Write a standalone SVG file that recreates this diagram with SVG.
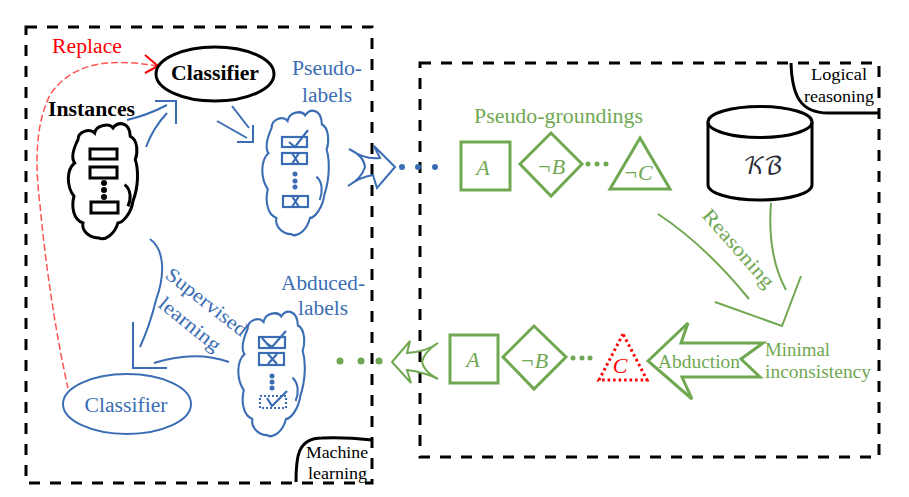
<svg xmlns="http://www.w3.org/2000/svg" width="909" height="497" viewBox="0 0 909 497">
<style>
text{font-family:"Liberation Serif","Times New Roman",serif;font-size:20px}
.m{text-anchor:middle}
.b{fill:#3b6db4}.g{fill:#70a852}.k{fill:#000}.r{fill:#f00}
.sb{stroke:#3b6db4;fill:none;stroke-width:2}
.sg{stroke:#70a852;fill:none;stroke-width:2}
.sg3{stroke:#70a852;fill:none;stroke-width:3}
.sk{stroke:#000;fill:none;stroke-width:3}
.box{stroke:#000;fill:none;stroke-width:3;stroke-dasharray:11 10}
.i{font-style:italic;font-size:22px}
.cb{stroke:#3b6db4;fill:#fff;stroke-width:6.500}
.ck{stroke:#000;fill:#fff;stroke-width:9}
.rb{stroke:#3b6db4;fill:none;stroke-width:2.200}
.t16{font-size:16px}
.t18{font-size:18px}
</style>
<defs>
<g id="cl"><path d="M30 50C30 25 65 15 80 30C85 5 125 0 135 15C150-5 185-5 187 40C210 50 210 90 202 110C212 140 212 190 195 235C190 270 165 300 150 300C140 335 110 355 92 345C60 345 40 320 45 300C15 290 10 250 18 220C-5 190-5 140 20 120C5 100 25 60 30 50Z"/><path d="M170 185C190 200 190 230 180 250"/></g>
</defs>
<g id="frames">
<rect class="box" x="26" y="27" width="346" height="456"/>
<rect class="box" x="420" y="63" width="459" height="394"/>
</g>
<g id="connectors">
<path d="M158 66C110 58 72 62 50 95C35 125 35 165 40 205C46 270 57 340 68 388" fill="none" stroke="#f55" stroke-width="1.500" stroke-dasharray="7 3"/>
<path d="M145 55L158 66L145 73" fill="none" stroke="#f00" stroke-width="2"/>
<path class="sb" d="M127 120Q148 115 167 105M146 147Q153 128 167 113M155 101H176V124"/>
<path class="sb" d="M232 106L249 128M217 121L247 138M253 125V142H237"/>
<path class="sb" d="M150 239C165 250 165 275 156 300Q150 325 140 347M229 362Q195 350 154 363M133 322V368H167"/>
<path class="sg" d="M658 214Q705 245 749 299M771 203Q767 255 786 290M715 302L782 326L801 276"/>
<path class="sb" d="M395 167L374 146L380 158Q365 160 349 149Q364 156 365 167Q362 178 348 186Q360 177 373 175L377 188Z"/>
<path class="sg" d="M392 362L410 341L407 353Q426 352 438 343Q424 352 422 362Q424 372 438 379Q424 372 407 370L411 383Z"/>
<path class="sg3" d="M648 361L688 323L681 343H763L741 359L760 377H682L692 399Z"/>
</g>
<g id="dots-blue" class="b"><circle cx="402" cy="167" r="3"/><circle cx="418" cy="167" r="3"/><circle cx="435" cy="167" r="3"/></g>
<g id="dots-green" class="g"><circle cx="340" cy="361" r="3.500"/><circle cx="361" cy="361" r="3.500"/><circle cx="379" cy="361" r="3.500"/></g>
<g id="classifier-top">
<ellipse cx="215" cy="74" rx="59" ry="27" fill="#fff" stroke="#000" stroke-width="3"/>
<text class="m k" x="215" y="80" font-weight="bold" textLength="88" lengthAdjust="spacingAndGlyphs">Classifier</text>
</g>
<g id="classifier-bottom">
<ellipse cx="127" cy="404" rx="64" ry="30" class="sb"/>
<text class="m b" x="126" y="412" textLength="83" lengthAdjust="spacingAndGlyphs">Classifier</text>
</g>
<g id="instances">
<text class="k" x="48" y="116" font-weight="bold" textLength="87" lengthAdjust="spacingAndGlyphs">Instances</text>
<use href="#cl" transform="translate(68 123) scale(.333)" class="ck"/>
<g class="sk"><rect x="90" y="149" width="27" height="10"/><rect x="90" y="167" width="27" height="11"/><rect x="91" y="202" width="27" height="11"/></g>
<circle cx="104" cy="183" r="3"/><circle cx="104" cy="190" r="3"/><circle cx="104" cy="197" r="3"/>
</g>
<g id="pseudo-labels">
<text class="m b" x="327" y="75" textLength="70" lengthAdjust="spacingAndGlyphs">Pseudo-</text>
<text class="m b" x="327" y="102" textLength="50" lengthAdjust="spacingAndGlyphs">labels</text>
<use href="#cl" transform="translate(262 110) scale(.32 .36)" class="cb"/>
<g class="rb"><rect x="282" y="137" width="25" height="10"/><rect x="282" y="153" width="25" height="11"/><rect x="283" y="196" width="25" height="11"/><path d="M289 142L295 147L308 130M292 153L299 164M299 153L292 164M292 196L299 207M299 196L292 207"/></g>
<g class="b"><circle cx="295" cy="174" r="2.500"/><circle cx="295" cy="181" r="2.500"/><circle cx="295" cy="187" r="2.500"/></g>
</g>
<g id="abduced-labels">
<text class="m b" x="323" y="290" textLength="84" lengthAdjust="spacingAndGlyphs">Abduced-</text>
<text class="m b" x="323" y="315" textLength="50" lengthAdjust="spacingAndGlyphs">labels</text>
<use href="#cl" transform="translate(238 311) scale(.32 .36)" class="cb"/>
<g class="rb"><rect x="259" y="337" width="26" height="11"/><rect x="259" y="353" width="25" height="12"/><path d="M266 343L272 347L286 331M268 354L277 364M277 354L268 364M262 338L270 347"/><rect x="260" y="396" width="26" height="12" stroke-dasharray="2 2"/><path d="M267 398L272 406L287 391"/></g>
<g class="b"><circle cx="272" cy="376" r="2.500"/><circle cx="272" cy="382" r="2.500"/><circle cx="272" cy="388" r="2.500"/></g>
</g>
<g id="supervised-label">
<text class="b" transform="translate(164 277) rotate(38)" textLength="98" lengthAdjust="spacingAndGlyphs">Supervised</text>
<text class="b" transform="translate(157 306) rotate(39)" textLength="74" lengthAdjust="spacingAndGlyphs">learning</text>
</g>
<g id="replace-label"><text class="r" x="52" y="53" textLength="70" lengthAdjust="spacingAndGlyphs">Replace</text></g>
<g id="machine-learning">
<path class="sk" d="M296 482C296 458 297 438 322 438Q345 437 372 440"/>
<text class="k t16" x="306" y="458" textLength="62" lengthAdjust="spacingAndGlyphs">Machine</text>
<text class="k t16" x="308" y="479" textLength="59" lengthAdjust="spacingAndGlyphs">learning</text>
</g>
<g id="logical-reasoning">
<path class="sk" d="M791 63C792 95 800 113 828 113H879"/>
<text class="m k t16" x="839" y="80" textLength="56" lengthAdjust="spacingAndGlyphs">Logical</text>
<text class="m k t16" x="839" y="102" textLength="70" lengthAdjust="spacingAndGlyphs">reasoning</text>
</g>
<g id="pseudo-groundings">
<text class="g" x="474" y="123" textLength="169" lengthAdjust="spacingAndGlyphs">Pseudo-groundings</text>
<rect class="sg3" x="461" y="142" width="49" height="48"/>
<text class="m g i" x="483" y="175">A</text>
<path class="sg3" d="M520 164L551 133L582 164L551 196Z"/>
<text class="m g i" x="551" y="174">¬B</text>
<circle class="g" cx="588" cy="164" r="2.500"/><circle class="g" cx="597" cy="164" r="2.500"/><circle class="g" cx="606" cy="164" r="2.500"/>
<path class="sg3" d="M640 138L610 189H670Z"/>
<text class="m g i" x="638" y="180">¬C</text>
</g>
<g id="kb">
<path class="sk" style="fill:#fff" d="M708 122V185C708 193 730 200 760 200S812 193 812 185V122"/>
<ellipse class="sk" style="fill:#fff" cx="760" cy="122" rx="52" ry="15.500"/>
<text class="m" x="762" y="174" fill="#2b2b35" letter-spacing="-2" style="font-family:'DejaVu Math TeX Gyre','Liberation Serif',serif;font-size:24px">𝒦ℬ</text>
</g>
<g id="reasoning-label"><text class="g" transform="translate(701 216) rotate(48.500)" textLength="98" lengthAdjust="spacingAndGlyphs">Reasoning</text></g>
<g id="abduced-groundings">
<rect class="sg3" x="450" y="335" width="48" height="48"/>
<text class="m g i" x="473" y="367">A</text>
<path class="sg3" d="M503 357L534 326L566 357L534 389Z"/>
<text class="m g i" x="534" y="368">¬B</text>
<circle class="g" cx="573" cy="358" r="2.500"/><circle class="g" cx="582" cy="358" r="2.500"/><circle class="g" cx="590" cy="358" r="2.500"/>
<path d="M623 334L599 380H647Z" fill="none" stroke="#f00" stroke-width="3" stroke-dasharray="2.500 3"/>
<text class="m r i" x="620" y="373">C</text>
</g>
<g id="abduction-label"><text class="g t18" x="658" y="368" textLength="82" lengthAdjust="spacingAndGlyphs">Abduction</text></g>
<g id="minimal-inconsistency">
<text class="g t18" x="765" y="356" textLength="65" lengthAdjust="spacingAndGlyphs">Minimal</text>
<text class="g t18" x="765" y="378" textLength="106" lengthAdjust="spacingAndGlyphs">inconsistency</text>
</g>
</svg>
